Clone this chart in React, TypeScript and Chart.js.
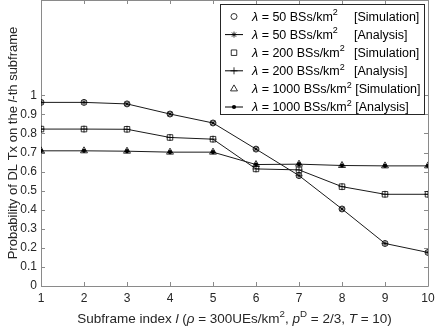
import React, { useEffect, useRef } from 'react';
import { Chart, registerables } from 'chart.js';

Chart.register(...registerables);

// ---------- data ----------
const subframes = [1, 2, 3, 4, 5, 6, 7, 8, 9, 10];
const sim50 = [0.963, 0.963, 0.955, 0.902, 0.855, 0.718, 0.579, 0.404, 0.223, 0.176];
const ana50 = [0.963, 0.963, 0.955, 0.902, 0.855, 0.718, 0.579, 0.404, 0.223, 0.176];
const sim200 = [0.823, 0.823, 0.822, 0.779, 0.770, 0.614, 0.609, 0.521, 0.481, 0.481];
const ana200 = [0.823, 0.823, 0.822, 0.779, 0.770, 0.614, 0.609, 0.521, 0.481, 0.481];
const sim1000 = [0.709, 0.709, 0.707, 0.702, 0.702, 0.637, 0.639, 0.632, 0.630, 0.630];
const ana1000 = [0.709, 0.709, 0.707, 0.702, 0.702, 0.637, 0.639, 0.632, 0.630, 0.630];
const densities = ['50', '50', '200', '200', '1000', '1000'];
const kinds = ['[Simulation]', '[Analysis]', '[Simulation]', '[Analysis]', '[Simulation]', '[Analysis]'];
const yTickValues = [0, 0.1, 0.2, 0.3, 0.4, 0.5, 0.6, 0.7, 0.8, 0.9, 1];
const xTickValues = [1, 2, 3, 4, 5, 6, 7, 8, 9, 10];

const FAMILY = '"Liberation Sans", Arial, Helvetica, sans-serif';
const TEXT = '#262626';
const FRAME = '#8a8a8a';

type Seg = { t: string; it?: boolean; sup?: boolean };

function segFont(s: Seg, size: number) {
  const sz = s.sup ? size * 0.72 : size;
  return `${s.it ? 'italic ' : ''}${sz}px ${FAMILY}`;
}
function measureSegs(ctx: CanvasRenderingContext2D, segs: Seg[], size: number) {
  let w = 0;
  for (const s of segs) {
    ctx.font = segFont(s, size);
    w += ctx.measureText(s.t).width;
  }
  return w;
}
function drawSegs(ctx: CanvasRenderingContext2D, segs: Seg[], x: number, y: number, size: number) {
  for (const s of segs) {
    ctx.font = segFont(s, size);
    ctx.fillText(s.t, x, s.sup ? y - size * 0.42 : y);
    x += ctx.measureText(s.t).width;
  }
  return x;
}

function drawMarker(ctx: CanvasRenderingContext2D, kind: string, x: number, y: number) {
  ctx.save();
  ctx.strokeStyle = '#000';
  ctx.fillStyle = '#000';
  ctx.lineWidth = 0.8;
  ctx.beginPath();
  if (kind === 'circle') {
    ctx.arc(x, y, 3, 0, Math.PI * 2);
    ctx.stroke();
  } else if (kind === 'rect') {
    ctx.rect(x - 2.75, y - 2.75, 5.5, 5.5);
    ctx.stroke();
  } else if (kind === 'triangle') {
    ctx.moveTo(x, y - 4);
    ctx.lineTo(x + 3.46, y + 2);
    ctx.lineTo(x - 3.46, y + 2);
    ctx.closePath();
    ctx.stroke();
  } else if (kind === 'star') {
    const r = 3;
    ctx.moveTo(x - r, y); ctx.lineTo(x + r, y);
    ctx.moveTo(x, y - r); ctx.lineTo(x, y + r);
    const d = r * 0.707;
    ctx.moveTo(x - d, y - d); ctx.lineTo(x + d, y + d);
    ctx.moveTo(x - d, y + d); ctx.lineTo(x + d, y - d);
    ctx.stroke();
  } else if (kind === 'cross') {
    const r = 3.5;
    ctx.moveTo(x - r, y); ctx.lineTo(x + r, y);
    ctx.moveTo(x, y - r); ctx.lineTo(x, y + r);
    ctx.stroke();
  } else if (kind === 'dot') {
    ctx.arc(x, y, 2.1, 0, Math.PI * 2);
    ctx.fill();
  }
  ctx.restore();
}

const legendMarkers = ['circle', 'star', 'rect', 'cross', 'triangle', 'dot'];
const legendHasLine = [false, true, false, true, false, true];

const decorPlugin = {
  id: 'decor',
  beforeDatasetsDraw(chart: any) {
    const { ctx, chartArea: a, scales } = chart;
    const x = scales.x, y = scales.y;
    ctx.save();
    ctx.strokeStyle = FRAME;
    ctx.lineWidth = 1;
    ctx.beginPath();
    ctx.rect(a.left + 0.5, a.top + 0.5, a.right - a.left, a.bottom - a.top);
    ctx.stroke();
    ctx.beginPath();
    const tl = 4;
    for (const v of xTickValues) {
      const px = Math.round(x.getPixelForValue(v)) + 0.5;
      ctx.moveTo(px, a.bottom);
      ctx.lineTo(px, a.bottom - tl);
      ctx.moveTo(px, a.top);
      ctx.lineTo(px, a.top + tl);
    }
    for (const v of yTickValues) {
      const py = Math.round(y.getPixelForValue(v)) + 0.5;
      ctx.moveTo(a.left, py);
      ctx.lineTo(a.left + tl, py);
      ctx.moveTo(a.right, py);
      ctx.lineTo(a.right - tl, py);
    }
    ctx.stroke();
    ctx.restore();
  },
  afterDraw(chart: any) {
    const { ctx, chartArea: a } = chart;
    ctx.save();
    ctx.fillStyle = TEXT;
    ctx.textBaseline = 'alphabetic';
    ctx.textAlign = 'left';
    // x title
    const xs: Seg[] = [
      { t: 'Subframe index ' }, { t: 'l', it: true }, { t: ' (' }, { t: 'ρ', it: true },
      { t: ' = 300UEs/km' }, { t: '2', sup: true }, { t: ', ' }, { t: 'p', it: true },
      { t: 'D', sup: true }, { t: ' = 2/3, ' }, { t: 'T', it: true }, { t: ' = 10)' },
    ];
    const xsz = 13.5;
    const xw = measureSegs(ctx, xs, xsz);
    drawSegs(ctx, xs, (a.left + a.right) / 2 - xw / 2, 323, xsz);
    // y title
    const ys: Seg[] = [
      { t: 'Probability of DL Tx on the ' }, { t: 'l', it: true }, { t: '-th subframe' },
    ];
    const ysz = 13;
    const yw = measureSegs(ctx, ys, ysz);
    ctx.save();
    ctx.translate(17, (a.top + a.bottom) / 2);
    ctx.rotate(-Math.PI / 2);
    drawSegs(ctx, ys, -yw / 2, 0, ysz);
    ctx.restore();

    // legend
    const L = 220.5, R = 424.5, T = 4.5, B = 114.5;
    ctx.fillStyle = '#fff';
    ctx.fillRect(L, T, R - L, B - T);
    ctx.strokeStyle = '#262626';
    ctx.lineWidth = 1;
    ctx.strokeRect(L, T, R - L, B - T);
    const lsz = 12.5;
    for (let i = 0; i < densities.length; i++) {
      const cy = 16 + i * 18.1;
      if (legendHasLine[i]) {
        ctx.beginPath();
        ctx.strokeStyle = '#000';
        ctx.lineWidth = 1;
        ctx.moveTo(225, cy + 0.5);
        ctx.lineTo(243, cy + 0.5);
        ctx.stroke();
      }
      drawMarker(ctx, legendMarkers[i], 234, cy + 0.5);
      ctx.fillStyle = '#000';
      const segs: Seg[] = [{ t: 'λ', it: true }, { t: ` = ${densities[i]} BSs/km` }, { t: '2', sup: true }];
      const base = cy + lsz * 0.36;
      const end = drawSegs(ctx, segs, 252, base, lsz);
      ctx.font = `${lsz}px ${FAMILY}`;
      const bx = Math.max(354, end + ctx.measureText(' ').width);
      ctx.fillText(kinds[i], bx, base);
    }
    ctx.restore();
  },
};

function pts(vals: number[]) {
  return subframes.map((x, i) => ({ x, y: vals[i] }));
}

export default function App() {
  const ref = useRef<HTMLCanvasElement | null>(null);
  useEffect(() => {
    document.body.style.margin = '0';
    const cv = ref.current!;
    const simStyle = (style: string, r: number) => ({
      showLine: false,
      pointStyle: style,
      pointRadius: r,
      pointBorderColor: '#000',
      pointBackgroundColor: 'rgba(0,0,0,0)',
      pointBorderWidth: 0.8,
      borderColor: '#000',
    });
    const anaStyle = (style: string, r: number, fill: boolean) => ({
      showLine: true,
      borderColor: '#1a1a1a',
      borderWidth: 1,
      pointStyle: style,
      pointRadius: r,
      pointBorderColor: '#000',
      pointBackgroundColor: fill ? '#000' : 'rgba(0,0,0,0)',
      pointBorderWidth: fill ? 0 : 0.8,
      fill: false,
    });
    const chart = new Chart(cv, {
      type: 'scatter',
      data: {
        datasets: [
          { label: 'λ = 50 BSs/km2 [Simulation]', data: pts(sim50), ...simStyle('circle', 3) },
          { label: 'λ = 50 BSs/km2 [Analysis]', data: pts(ana50), ...anaStyle('star', 3, false) },
          { label: 'λ = 200 BSs/km2 [Simulation]', data: pts(sim200), ...simStyle('rect', 3.9) },
          { label: 'λ = 200 BSs/km2 [Analysis]', data: pts(ana200), ...anaStyle('cross', 3.5, false) },
          { label: 'λ = 1000 BSs/km2 [Simulation]', data: pts(sim1000), ...simStyle('triangle', 4) },
          { label: 'λ = 1000 BSs/km2 [Analysis]', data: pts(ana1000), ...anaStyle('circle', 2.1, true) },
        ] as any,
      },
      options: {
        animation: false,
        responsive: false,
        events: [],
        layout: { autoPadding: false, padding: { top: 0, right: 8, bottom: 0, left: 0 } },
        plugins: { legend: { display: false }, tooltip: { enabled: false } },
        scales: {
          x: {
            type: 'linear',
            min: 1,
            max: 10,
            afterBuildTicks: (s: any) => { s.ticks = xTickValues.map((v) => ({ value: v })); },
            afterFit: (s: any) => { s.height = 41; s.paddingLeft = 0; s.paddingRight = 0; },
            ticks: { color: TEXT, padding: 5, font: { family: FAMILY, size: 12 }, callback: (v: any) => String(v) },
            grid: { display: false, drawTicks: false },
            border: { display: false },
          },
          y: {
            type: 'linear',
            min: 0,
            max: 1.5,
            afterBuildTicks: (s: any) => { s.ticks = yTickValues.map((v) => ({ value: v })); },
            afterFit: (s: any) => { s.width = 41; s.paddingTop = 0; s.paddingBottom = 0; },
            ticks: { color: TEXT, padding: 4, font: { family: FAMILY, size: 12 }, callback: (v: any) => String(Number(v.toFixed(1))) },
            grid: { display: false, drawTicks: false },
            border: { display: false },
          },
        },
      } as any,
      plugins: [decorPlugin],
    });
    return () => chart.destroy();
  }, []);
  return <canvas ref={ref} width={436} height={327} style={{ display: 'block' }} />;
}
